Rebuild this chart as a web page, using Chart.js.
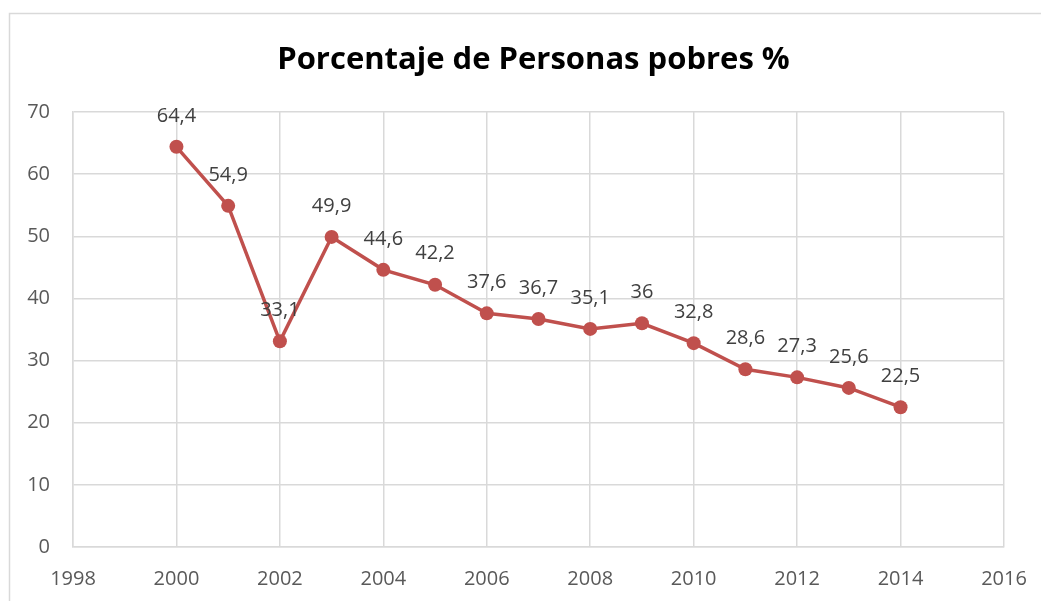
<!DOCTYPE html>
<html>
<head>
<meta charset="utf-8">
<script src="https://cdn.jsdelivr.net/npm/chart.js@4/dist/chart.umd.min.js"></script>
<style>
html,body{margin:0;padding:0;background:#fff;}
#wrap{position:relative;width:1041px;height:601px;}
</style>
</head>
<body>
<div id="wrap"><canvas id="c" width="1041" height="601"></canvas></div>
<script>
const years = [2000, 2001, 2002, 2003, 2004, 2005, 2006, 2007, 2008, 2009, 2010, 2011, 2012, 2013, 2014];
const pobreza = [64.4, 54.9, 33.1, 49.9, 44.6, 42.2, 37.6, 36.7, 35.1, 36, 32.8, 28.6, 27.3, 25.6, 22.5];
const xTicks = [1998, 2000, 2002, 2004, 2006, 2008, 2010, 2012, 2014, 2016];
const yTicks = [0, 10, 20, 30, 40, 50, 60, 70];
const titleText = 'Porcentaje de Personas pobres %';

const FONT = '"Open Sans", "Noto Sans", sans-serif';

const borderPlugin = {
  id: 'outerBorder',
  beforeDraw(chart) {
    const ctx = chart.ctx;
    ctx.save();
    ctx.fillStyle = '#fff';
    ctx.fillRect(0, 0, chart.width, chart.height);
    ctx.strokeStyle = '#d9d9d9';
    ctx.lineWidth = 1.5;
    ctx.strokeRect(9.5, 13.5, 1040, 600);
    ctx.restore();
  }
};

const titlePlugin = {
  id: 'chartTitle',
  afterDraw(chart) {
    const ctx = chart.ctx;
    ctx.save();
    ctx.font = 'bold 31px ' + FONT;
    ctx.fillStyle = '#000';
    ctx.textAlign = 'center';
    ctx.textBaseline = 'alphabetic';
    ctx.fillText(titleText, 533.5, 69);
    ctx.restore();
  }
};

const labelPlugin = {
  id: 'dataLabels',
  afterDatasetsDraw(chart) {
    const ctx = chart.ctx;
    const meta = chart.getDatasetMeta(0);
    ctx.save();
    ctx.font = '20px ' + FONT;
    ctx.fillStyle = '#404040';
    ctx.textAlign = 'center';
    ctx.textBaseline = 'middle';
    meta.data.forEach((pt, i) => {
      const v = pobreza[i];
      ctx.fillText(String(v).replace('.', ','), pt.x, pt.y - 31);
    });
    ctx.restore();
  }
};

new Chart(document.getElementById('c'), {
  type: 'line',
  data: {
    datasets: [{
      label: titleText,
      data: years.map((y, i) => ({x: y, y: pobreza[i]})),
      borderColor: '#C0504D',
      backgroundColor: '#C0504D',
      borderWidth: 3.5,
      pointRadius: 7,
      pointBackgroundColor: '#C0504D',
      pointBorderColor: '#C0504D',
      pointBorderWidth: 0,
      tension: 0
    }]
  },
  options: {
    responsive: false,
    animation: false,
    devicePixelRatio: 1,
    layout: { padding: { left: 0, right: 37, top: 112, bottom: 0 } },
    plugins: {
      legend: { display: false },
      tooltip: { enabled: false },
      title: { display: false }
    },
    scales: {
      x: {
        type: 'linear',
        min: 1998,
        max: 2016,
        afterBuildTicks(scale) { scale.ticks = xTicks.map(v => ({value: v})); },
        afterFit(scale) { scale.height = 54; scale.paddingLeft = 0; scale.paddingRight = 0; },
        grid: { color: '#d9d9d9', lineWidth: 1.5, drawTicks: false },
        border: { color: '#d9d9d9', width: 1.5 },
        ticks: {
          color: '#595959',
          font: { family: FONT, size: 20 },
          padding: 20,
          maxRotation: 0,
          autoSkip: false,
          callback: v => String(v)
        }
      },
      y: {
        min: 0,
        max: 70,
        afterBuildTicks(scale) { scale.ticks = yTicks.map(v => ({value: v})); },
        afterFit(scale) { scale.width = 73; scale.paddingTop = 0; scale.paddingBottom = 0; },
        grid: { color: '#d9d9d9', lineWidth: 1.5, drawTicks: false },
        border: { color: '#d9d9d9', width: 1.5 },
        ticks: {
          color: '#595959',
          font: { family: FONT, size: 20 },
          padding: 23,
          callback: v => String(v)
        }
      }
    }
  },
  plugins: [borderPlugin, labelPlugin, titlePlugin]
});
</script>
</body>
</html>
